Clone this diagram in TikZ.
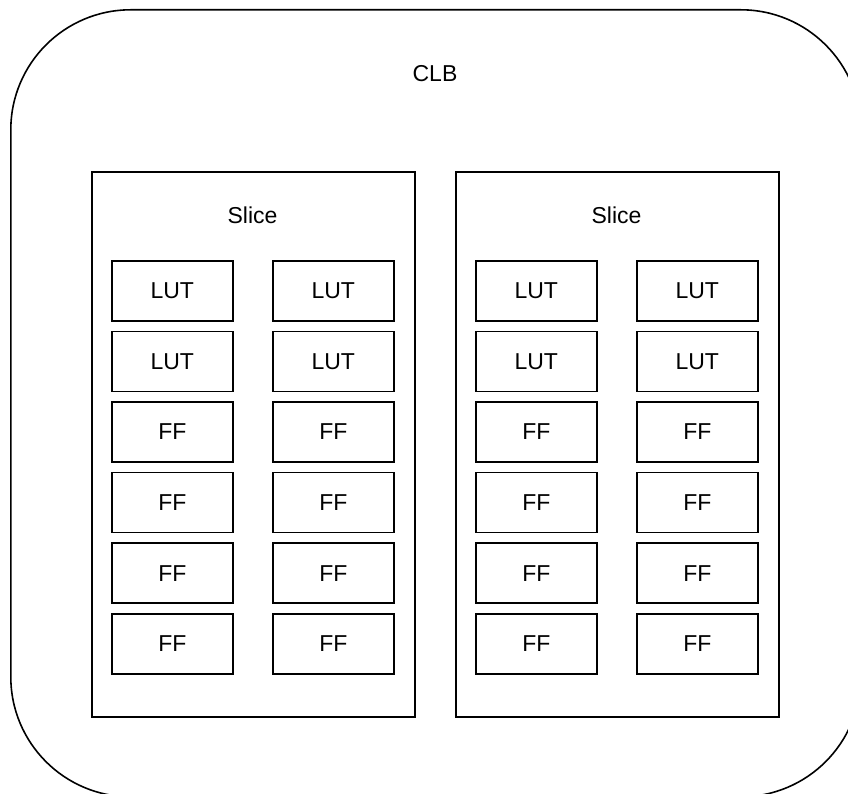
\documentclass[tikz,border=0pt]{standalone}
\usepackage{fontspec}
\setmainfont{Liberation Sans}
\begin{document}
\begin{tikzpicture}[x=1pt,y=-1pt,line width=1.6pt,
  lbl/.style={font=\fontsize{23}{26}\selectfont, inner sep=0pt},
  cell/.style={draw, anchor=north west, minimum width=121pt, minimum height=60pt, inner sep=0pt, font=\fontsize{23}{26}\selectfont},
  slicebox/.style={draw, anchor=north west, minimum width=323pt, minimum height=545pt, inner sep=0pt},
  clbbox/.style={draw, anchor=north west, rounded corners=120pt, minimum width=850pt, minimum height=787pt, inner sep=0pt}]
\useasboundingbox (0,0) rectangle (848,794);
\clip (0,0) rectangle (848,794);
\node[clbbox] (clb) at (10,9) {};
\node[lbl] (clbl) at (435,74) {CLB};
\node[slicebox] (sliceA) at (91,171) {};
\node[slicebox] (sliceB) at (455,171) {};
\node[lbl] (sliceAl) at (252.5,215) {Slice};
\node[lbl] (sliceBl) at (616.5,215) {Slice};
\foreach \c/\x in {1/111,2/272,3/475,4/636}{
  \foreach \r/\y/\t in {1/260/LUT,2/330.6/LUT,3/401.2/FF,4/471.8/FF,5/542.4/FF,6/613/FF}{
    \node[cell] (cell\c\r) at (\x,\y) {\t};
  }
}
\end{tikzpicture}
\end{document}
